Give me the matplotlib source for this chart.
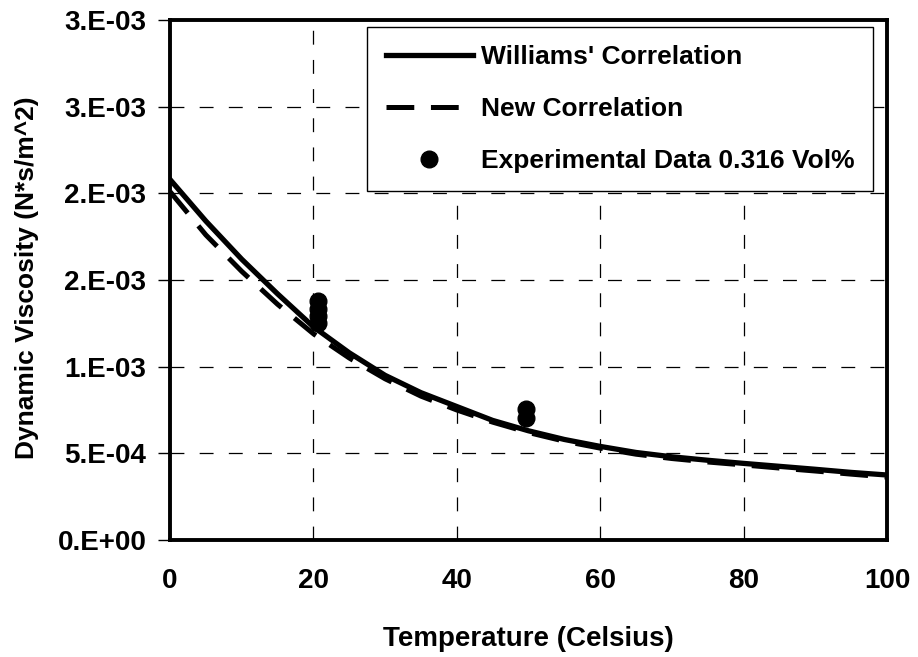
import matplotlib
matplotlib.use('Agg')
import matplotlib.pyplot as plt

plt.rcParams['font.family'] = ['Liberation Sans', 'DejaVu Sans']
plt.rcParams['font.weight'] = 'bold'
plt.rcParams['lines.scale_dashes'] = False

# Curvas das correlações (viscosidade dinâmica em N*s/m^2)
temperatura = [0, 5, 10, 15, 20, 25, 30, 35, 40, 45, 50,
               55, 60, 65, 70, 75, 80, 85, 90, 95, 100]
williams = [2.08e-3, 1.84e-3, 1.62e-3, 1.42e-3, 1.23e-3, 1.08e-3, 9.5e-4,
            8.5e-4, 7.7e-4, 6.9e-4, 6.3e-4, 5.8e-4, 5.4e-4, 5.05e-4,
            4.8e-4, 4.6e-4, 4.42e-4, 4.25e-4, 4.08e-4, 3.9e-4, 3.75e-4]
nova_correlacao = [2.01e-3, 1.76e-3, 1.55e-3, 1.36e-3, 1.19e-3, 1.05e-3, 9.3e-4,
                   8.3e-4, 7.5e-4, 6.8e-4, 6.2e-4, 5.7e-4, 5.3e-4, 4.95e-4,
                   4.7e-4, 4.5e-4, 4.33e-4, 4.15e-4, 3.98e-4, 3.8e-4, 3.63e-4]

# Dados experimentais 0.316 Vol%
temp_exp = [20.7, 20.7, 20.7, 20.7, 49.7, 49.7]
visc_exp = [1.38e-3, 1.33e-3, 1.29e-3, 1.25e-3, 7.55e-4, 7.05e-4]

x_ticks = [0, 20, 40, 60, 80, 100]
y_ticks = [0, 5e-4, 1e-3, 1.5e-3, 2e-3, 2.5e-3, 3e-3]
y_rotulos = ['0.E+00', '5.E-04', '1.E-03', '2.E-03', '2.E-03', '3.E-03', '3.E-03']

fig = plt.figure(figsize=(9.18, 6.57), dpi=100)
ax = fig.add_axes([170 / 918, 1 - 540 / 657, 717 / 918, 520 / 657])

ax.plot(temperatura, williams, color='k', lw=3.8, label="Williams' Correlation", zorder=3)
ax.plot(temperatura, nova_correlacao, color='k', lw=3.6, linestyle=(0, (20, 12)),
        label='New Correlation', zorder=3)
ax.plot(temp_exp, visc_exp, 'o', color='k', ms=12, ls='none',
        label='Experimental Data 0.316 Vol%', zorder=4)

ax.set_xlim(0, 100)
ax.set_ylim(0, 3e-3)
ax.set_xticks(x_ticks)
ax.set_yticks(y_ticks)
ax.set_yticklabels(y_rotulos)

ax.set_axisbelow(True)
ax.grid(True, color='k', lw=0.9, linestyle=(0, (10, 11)))

for spine in ax.spines.values():
    spine.set_linewidth(2.8)

ax.tick_params(axis='y', direction='out', length=9, width=1, pad=8, labelsize=20)
ax.tick_params(axis='x', length=0, pad=20, labelsize=20)

ax.set_xlabel('Temperature (Celsius)', fontsize=20, fontweight='bold')
ax.xaxis.set_label_coords(0.5, -0.165)
ax.set_ylabel('Dynamic Viscosity (N*s/m^2)', fontsize=19, fontweight='bold')
ax.yaxis.set_label_coords(-0.183, 0.504)

leg = ax.legend(loc='upper right', bbox_to_anchor=(0.9805, 0.9865), borderaxespad=0,
                fontsize=19, frameon=True, fancybox=False, edgecolor='k', framealpha=1,
                handlelength=3.3, handletextpad=0.3, borderpad=0.7, labelspacing=1.05,
                numpoints=1)
leg.get_frame().set_linewidth(1.0)

fig.savefig('out.png', dpi=100)
